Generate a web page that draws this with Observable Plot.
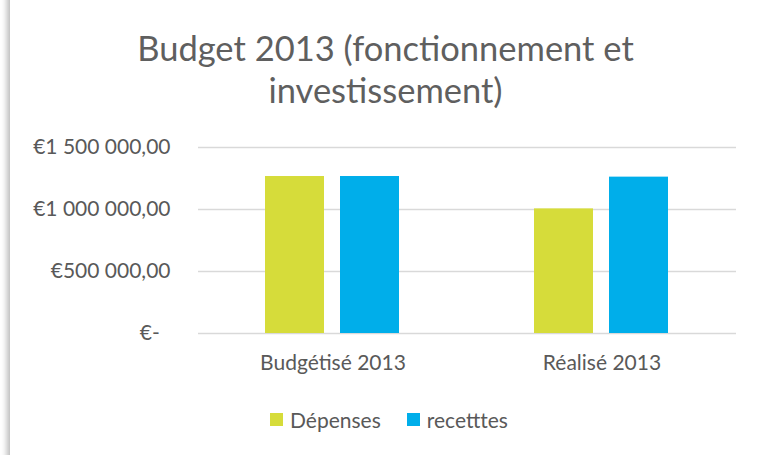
<!DOCTYPE html>
<html>
<head>
<meta charset="utf-8">
<script src="https://cdn.jsdelivr.net/npm/d3@7"></script>
<script src="https://cdn.jsdelivr.net/npm/@observablehq/plot@0.6"></script>
<style>
  html, body { margin: 0; padding: 0; background: #fff; }
  #root { position: relative; width: 761px; height: 455px; overflow: hidden; background: #fff; font-family: Lato, "Open Sans", sans-serif; color: #595959; }
  #frame { position: absolute; left: 10px; top: -20px; width: 820px; height: 520px; background: #fff; box-shadow: -3px 1px 6px rgba(0,0,0,0.28); }
  #title { position: absolute; left: 10px; width: 751px; top: 27px; text-align: center; font-size: 34.5px; line-height: 42px; color: #5f5f5f; }
  #chart { position: absolute; left: 0; top: 120px; }
  #legend { position: absolute; left: 270px; top: 405px; height: 28px; display: flex; align-items: center; font-size: 21px; color: #595959; }
  .item { display: flex; align-items: center; margin-right: 26px; }
  .sw { width: 13px; height: 13px; margin-right: 7px; }
</style>
</head>
<body>
<div id="root">
  <div id="frame"></div>
  <div id="title">Budget 2013 (fonctionnement et<br>investissement)</div>
  <div id="chart"></div>
  <div id="legend"></div>
</div>
<script>
const categories = ["Budgétisé 2013", "Réalisé 2013"];
const series = ["Dépenses", "recetttes"];
const depenses = [1266000, 1005000];
const recettes = [1266000, 1261000];
const yTicks = [0, 500000, 1000000, 1500000];
const colors = ["#d6dc3a", "#00aeea"];

const data = categories.flatMap((c, i) => [
  {cat: c, serie: series[0], value: depenses[i]},
  {cat: c, serie: series[1], value: recettes[i]}
]);

const loc = d3.formatLocale({decimal: ",", thousands: " ", grouping: [3], currency: ["€", ""]});
const f = loc.format("$,.2f");
const fmt = d => d === 0 ? "€-\u00a0\u00a0" : f(d);

const plot = Plot.plot({
  width: 761,
  height: 263,
  marginLeft: 198,
  marginRight: 25,
  marginTop: 27,
  marginBottom: 50,
  style: {fontFamily: "Lato, 'Open Sans', sans-serif", fontSize: "21px", color: "#595959", background: "transparent", overflow: "visible"},
  fx: {domain: categories, padding: 0, label: null},
  x: {domain: series, paddingInner: 0.21, paddingOuter: 0.875, axis: null},
  y: {domain: [0, 1500000], axis: null},
  color: {domain: series, range: colors},
  marks: [
    Plot.ruleY(yTicks, {stroke: "#d9d9d9", strokeWidth: 1.3}),
    Plot.barY(data, {fx: "cat", x: "serie", y: "value", fill: "serie"}),
    Plot.axisY(yTicks, {tickSize: 0, tickPadding: 28, tickFormat: fmt, fontSize: 21, label: null}),
    Plot.axisFx({anchor: "bottom", tickSize: 0, tickPadding: 22, fontSize: 21, label: null})
  ]
});
document.getElementById("chart").appendChild(plot);

const legend = document.getElementById("legend");
series.forEach((s, i) => {
  const it = document.createElement("div");
  it.className = "item";
  const sw = document.createElement("span");
  sw.className = "sw";
  sw.style.background = colors[i];
  const t = document.createElement("span");
  t.textContent = s;
  it.appendChild(sw); it.appendChild(t);
  legend.appendChild(it);
});
</script>
</body>
</html>
